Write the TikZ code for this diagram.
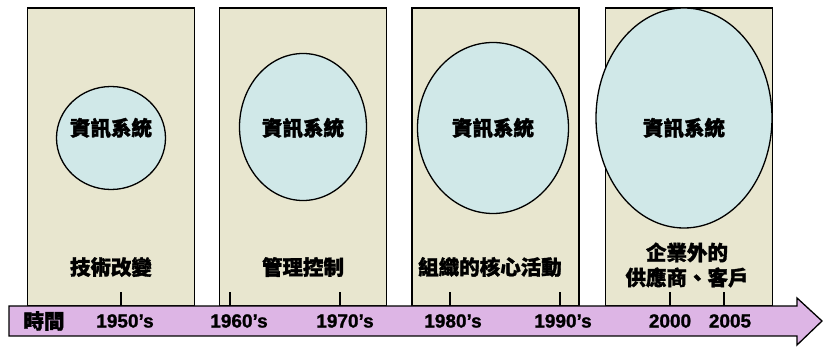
\documentclass[tikz,border=0pt]{standalone}
\usepackage{fontspec}
\setmainfont{Liberation Sans}[BoldFeatures={FakeBold=1.2}]
\newfontfamily\cjk{Noto Sans CJK TC}[BoldFeatures={FakeBold=1.5}]
\usetikzlibrary{positioning, shapes.geometric}
\definecolor{panelbg}{HTML}{E8E6CF}
\definecolor{sysbg}{HTML}{D0E8E8}
\definecolor{axisbg}{HTML}{DDB5E5}

\begin{document}
\begin{tikzpicture}[x=1pt, y=-1pt, line width=1.3pt,
    panel/.style={draw, fill=panelbg, minimum width=167pt, minimum height=298pt, inner sep=0pt},
    sys/.style={draw, fill=sysbg, ellipse, inner sep=0pt},
    cjklab/.style={font=\cjk\bfseries\fontsize{20.5}{25}\selectfont, align=center, inner sep=0pt},
    yearlab/.style={font=\bfseries\fontsize{19}{21}\selectfont, inner sep=0pt}]
    \useasboundingbox (0,0) rectangle (823,347);
    % i quattro periodi
    \node[panel] (p1) at (111,157) {};
    \node[panel, right=24pt of p1] (p2) {};
    \node[panel, right=24pt of p2] (p3) {};
    \node[panel, right=25pt of p3] (p4) {};

    % sistemi informativi, sempre piu grandi
    \node[sys, minimum width=109pt, minimum height=103pt] (e1) at (111,138) {};
    \node[sys, minimum width=127pt, minimum height=147pt] (e2) at (303,127) {};
    \node[sys, minimum width=151pt, minimum height=171pt] (e3) at (493,128) {};
    \node[sys, minimum width=176pt, minimum height=220pt] (e4) at (684,118) {};
    \foreach \i/\x in {1/111, 2/303, 3/493, 4/684}
      \node[cjklab] (s\i) at (\x,128) {資訊系統};

    \node[cjklab] (l1) at (111,267) {技術改變};
    \node[cjklab] (l2) at (303,267) {管理控制};
    \node[cjklab] (l3) at (490,267) {組織的核心活動};
    \node[cjklab] (l4) at (687,265) {企業外的\\供應商、客戶};

    % asse del tempo
    \draw[fill=axisbg] (9,306) -- (797,306) -- (797,298) -- (822,321)
      -- (797,345) -- (797,336) -- (9,336) -- cycle;
    \node[cjklab] (t0) at (44,321) {時間};
    \foreach \t/\lx/\lab in {121/125/1950's, 230/239/1960's, 340/345/1970's,
        450/453/1980's, 560/563/1990's, 670/670/2000, 724/730/2005} {
      \coordinate (c\t) at (\t,306);
      \draw (c\t) -- ++(0,-14);
      \node[yearlab] (y\t) at (\lx,321) {\lab};
    }
\end{tikzpicture}
\end{document}
